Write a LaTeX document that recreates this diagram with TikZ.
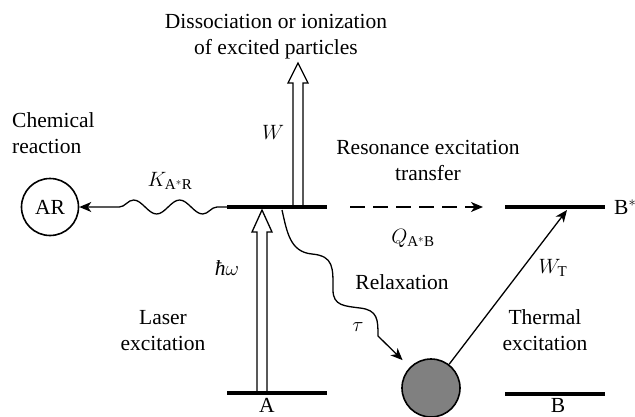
\documentclass[tikz,border=0pt]{standalone}
\usepackage{fontspec}
\setmainfont{Liberation Serif}
\usetikzlibrary{arrows.meta,positioning,calc,decorations.pathmorphing}
\definecolor{cBall}{RGB}{128,128,128}

\tikzset{
  level/.style={line width=3.6pt},
  thinline/.style={line width=1.3pt},
  tip/.style={-{Stealth[length=12pt,width=10pt,inset=3.5pt]}},
  hollow/.style={line width=1.3pt, fill=white, line join=miter},
  lbl/.style={inner sep=0pt, align=center},
}

\begin{document}
\begin{tikzpicture}[x=1pt,y=-1pt,font=\fontsize{21.5}{26}\selectfont]
  \useasboundingbox (0,0) rectangle (635,416);
  % level end points
  \coordinate (asL) at (227,207); \coordinate (asR) at (327,207);
  \coordinate (aL)  at (227,393); \coordinate (aR)  at (327,393);
  \coordinate (bsL) at (505,207); \coordinate (bsR) at (605,207);
  \coordinate (bL)  at (505,394); \coordinate (bR)  at (605,394);
  \coordinate (hwB) at (262,393);
  \coordinate (wB)  at (298,207);
  \coordinate (relS) at (282,210);
  \coordinate (wtE) at (567,210);

  % hollow arrows
  \draw[hollow] (hwB) ++(-5,0) -- ++(0,-161) -- ++(-5,0) -- ++(10,-22)
    -- ++(10,22) -- ++(-5,0) -- ++(0,161) -- cycle;
  \draw[hollow] (wB) ++(-5,0) -- ++(0,-124) -- ++(-5,0) -- ++(10,-20)
    -- ++(10,20) -- ++(-5,0) -- ++(0,124) -- cycle;

  % levels
  \draw[level] (asL) -- (asR);
  \draw[level] (aL) -- (aR);
  \draw[level] (bsL) -- (bsR);
  \draw[level] (bL) -- (bR);

  % particles
  \node[draw, circle, line width=1.6pt, minimum size=57pt, inner sep=0pt] (AR) at (50,207) {AR};
  \node[draw, circle, line width=1.6pt, fill=cBall, minimum size=58pt] (ball) at (431,388) {};

  % transitions
  \draw[thinline, tip, decorate, decoration={snake, segment length=46pt,
    amplitude=7pt, pre length=10pt, post length=24pt}] (asL) -- (AR);
  \draw[thinline, tip, dash pattern=on 15pt off 8pt, shorten <=23pt,
    shorten >=22pt] (asR) -- (bsL);
  \draw[thinline, tip, shorten >=10pt] (relS)
    .. controls (287,232) and (290,252) .. (312,254)
    .. controls (334,256) and (333,268) .. (333,290)
    .. controls (333,306) and (345,306) .. (360,308)
    .. controls (378,310) and (378,320) .. (378,336) -- (ball);
  \draw[thinline, tip] (ball) -- (wtE);

  % labels
  \node[lbl] (diss) at (276,37) {Dissociation or ionization\\of excited particles};
  \node[lbl] (chem) [anchor=west, align=left] at (12,133) {Chemical\\reaction};
  \node[lbl] (reso) at (428,160) {Resonance excitation\\transfer};
  \node[lbl] (laser) at (163,331) {Laser\\excitation};
  \node[lbl] (therm) at (545,330) {Thermal\\excitation};
  \node[lbl] (relax) at (402,282) {Relaxation};
  \node[lbl] (W) at (273,132) {$W$};
  \node[lbl] (K) at (170,181) {$K_{\mathrm{A}^*\mathrm{R}}$};
  \node[lbl] (Q) at (413,238) {$Q_{\mathrm{A}^*\mathrm{B}}$};
  \node[lbl] (hw) at (227,268) {\textit{ħ}$\omega$};
  \node[lbl] (tau) at (358,327) {$\tau$};
  \node[lbl] (WT) at (553,268) {$W_{\mathrm{T}}$};
  \node[lbl] (Bs) [anchor=west] at (614,207) {B$^*$};
  \node[lbl] (A) [anchor=north] at (267,398) {A};
  \node[lbl] (B) [anchor=north] at (558,398) {B};
\end{tikzpicture}
\end{document}
